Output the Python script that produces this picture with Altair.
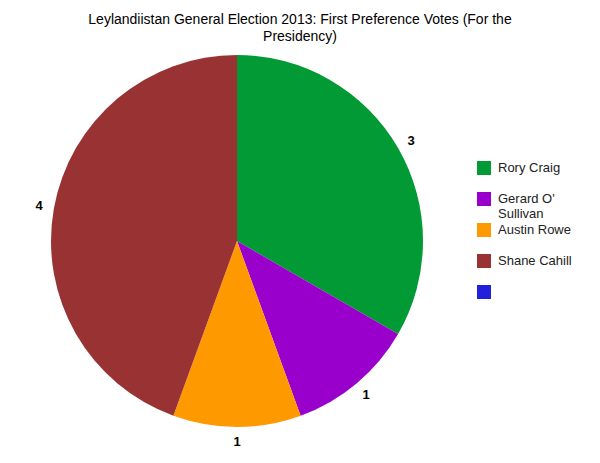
import altair as alt
import pandas as pd

candidates = ["Rory Craig", "Gerard O' Sullivan", "Austin Rowe", "Shane Cahill", ""]
votes = [3, 1, 1, 4, 0]
colors = ["#029a35", "#9900cc", "#ff9900", "#993333", "#2020dd"]

df = pd.DataFrame({"candidate": candidates, "votes": votes, "order": list(range(len(candidates)))})

FONT = "Liberation Sans"

color = alt.Color(
    "candidate:N",
    scale=alt.Scale(domain=candidates, range=colors),
    legend=alt.Legend(
        title=None,
        orient="none",
        legendX=464,
        legendY=106,
        symbolType="square",
        symbolSize=196,
        symbolStrokeWidth=0,
        labelFont=FONT,
        labelFontSize=13,
        labelColor="#222222",
        labelOffset=7,
        gridAlign="all",
        rowPadding=2,
        labelExpr="datum.label == \"Gerard O' Sullivan\" ? [\"Gerard O'\", \"Sullivan\"] : datum.label",
    ),
)

base = alt.Chart(df).encode(
    theta=alt.Theta("votes:Q", stack=True),
    order=alt.Order("order:Q"),
)

arcs = base.mark_arc(outerRadius=186, stroke=None).encode(color=color)

labels = base.transform_filter("datum.votes > 0").mark_text(
    radius=201, font=FONT, fontSize=13, fontWeight="bold", color="#000000", baseline="middle"
).encode(text="votes:Q")

chart = alt.layer(arcs, labels).properties(
    width=448,
    height=372,
    title=alt.Title(
        ["Leylandiistan General Election 2013: First Preference Votes (For the", "Presidency)"],
        font=FONT,
        fontSize=14,
        fontWeight="normal",
        color="#000000",
        lineHeight=17,
        anchor="middle",
        dx=63,
        offset=11,
    ),
).configure_view(stroke=None)

chart.save("out.html", embed_options={"renderer": "svg", "actions": False})
